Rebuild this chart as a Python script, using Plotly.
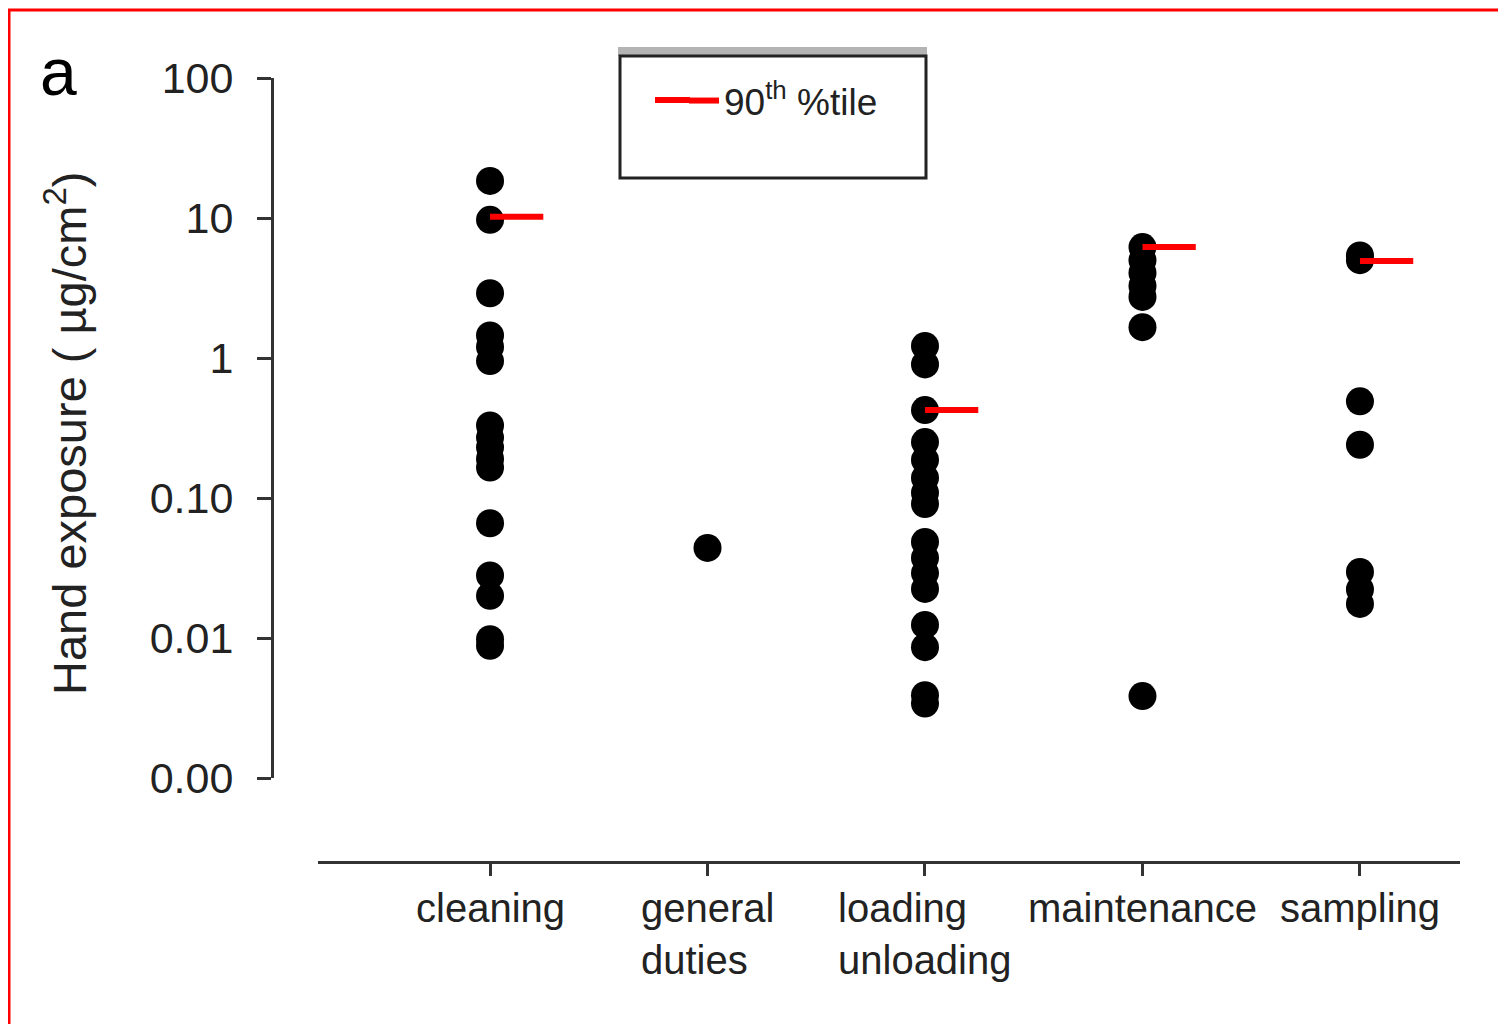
import plotly.graph_objects as go

# ---------------- data ----------------
categories = ["cleaning", "general duties", "loading unloading", "maintenance", "sampling"]
tick_labels = ["cleaning", "general<br>duties", "loading<br>unloading", "maintenance", "sampling"]

cleaning = [18.4, 9.7, 2.9, 1.45, 1.2, 0.95, 0.33, 0.27, 0.23, 0.19, 0.165, 0.066, 0.028, 0.02, 0.0098, 0.0088]
general_duties = [0.044]
loading_unloading = [1.22, 0.9, 0.425, 0.251, 0.187, 0.139, 0.109, 0.0906, 0.0485, 0.0373, 0.0291,
                     0.0224, 0.0124, 0.0086, 0.0039, 0.0034]
maintenance = [6.2, 5.0, 4.05, 3.27, 2.73, 1.66, 0.00385]
sampling = [5.4, 5.0, 0.49, 0.24, 0.0296, 0.0222, 0.0175]
series = [cleaning, general_duties, loading_unloading, maintenance, sampling]

p90 = [10.2, None, 0.425, 6.2, 4.93]

y_tickvals = [0.001, 0.01, 0.1, 1, 10, 100]
y_ticktext = ["0.00", "0.01", "0.10", "1", "10", "100"]

# ---------------- layout helpers (screen pixel -> paper) ----------------
OFF = 8                      # default page body margin
W, H = 1506 - 2 * OFF, 1032 - 2 * OFF
def px(x):
    return (x - OFF) / W
def py(y):
    return 1 - (y - OFF) / H

FONT = "Liberation Sans, Arial, sans-serif"
TXT = "#222222"
SEG = 0.245  # length of the 90th percentile dash in category units

fig = go.Figure()

xs, ys = [], []
for i, vals in enumerate(series):
    for v in vals:
        xs.append(i)
        ys.append(v)
fig.add_trace(go.Scatter(x=xs, y=ys, mode="markers",
                         marker=dict(color="black", size=28, line=dict(width=0)),
                         showlegend=False, hoverinfo="y"))

first = True
for i, v in enumerate(p90):
    if v is None:
        continue
    fig.add_trace(go.Scatter(x=[i, i + SEG], y=[v, v], mode="lines",
                             line=dict(color="#ff0000", width=6),
                             name="90<sup>th</sup> %tile", showlegend=first,
                             legendgroup="p90"))
    first = False

shapes = [
    # outer red frame
    dict(type="rect", xref="paper", yref="paper", x0=px(9), x1=px(1540), y0=py(1080), y1=py(10),
         line=dict(color="#ff0000", width=3), fillcolor="rgba(0,0,0,0)"),
    # legend box with grey shadow on top
    dict(type="rect", xref="paper", yref="paper", x0=px(618), x1=px(927), y0=py(56), y1=py(47),
         fillcolor="#b4b4b4", line=dict(width=0)),
    dict(type="rect", xref="paper", yref="paper", x0=px(620), x1=px(926), y0=py(178), y1=py(56),
         line=dict(color="#222222", width=3), fillcolor="rgba(0,0,0,0)"),
    # longer legend swatch (extends the legend's own short line sample)
    dict(type="line", xref="paper", yref="paper", x0=px(655), x1=px(690), y0=py(100), y1=py(100),
         line=dict(color="#ff0000", width=6)),
]

annotations = [
    dict(text="a", xref="paper", yref="paper", x=px(58), y=py(72), showarrow=False,
         font=dict(family=FONT, size=66, color="black"), xanchor="center", yanchor="middle"),
    dict(text="Hand exposure ( µg/cm<sup>2</sup>)", xref="paper", yref="paper",
         x=px(66), y=py(434), showarrow=False, textangle=-90,
         font=dict(family=FONT, size=47, color=TXT), xanchor="center", yanchor="middle"),
]
# category labels, left-aligned lines, placed on the x axis scale
for i, lab in enumerate(tick_labels):
    annotations.append(dict(text=lab, xref="x", yref="paper", x=i, y=py(884),
                            showarrow=False, xanchor="center", yanchor="top", align="left",
                            font=dict(family=FONT, size=40, color=TXT)))

fig.update_layout(
    width=W, height=H,
    margin=dict(l=0, r=0, t=0, b=0, autoexpand=False),
    paper_bgcolor="white", plot_bgcolor="white",
    font=dict(family=FONT, color=TXT),
    shapes=shapes, annotations=annotations,
    legend=dict(x=px(684), y=py(101), xanchor="left", yanchor="middle",
                bgcolor="rgba(0,0,0,0)", borderwidth=0,
                font=dict(family=FONT, size=37, color=TXT)),
    xaxis=dict(domain=[px(318), px(1460)], range=[-0.791, 4.46],
               anchor="free", position=py(862), automargin=False,
               tickmode="array", tickvals=list(range(len(categories))), ticktext=tick_labels,
               showticklabels=False,
               showline=True, linecolor="#333333", linewidth=3,
               ticks="outside", ticklen=12, tickwidth=3, tickcolor="#333333",
               showgrid=False, zeroline=False),
    yaxis=dict(domain=[py(778), py(78)], type="log", range=[-3, 2],
               anchor="free", position=px(272), automargin=False,
               tickmode="array", tickvals=y_tickvals, ticktext=y_ticktext,
               showline=True, linecolor="#333333", linewidth=3,
               ticks="outside", ticklen=14, tickwidth=3, tickcolor="#333333",
               ticklabelstandoff=15,
               showgrid=False, zeroline=False,
               tickfont=dict(family=FONT, size=43, color=TXT)),
)

fig.write_html("out.html")
